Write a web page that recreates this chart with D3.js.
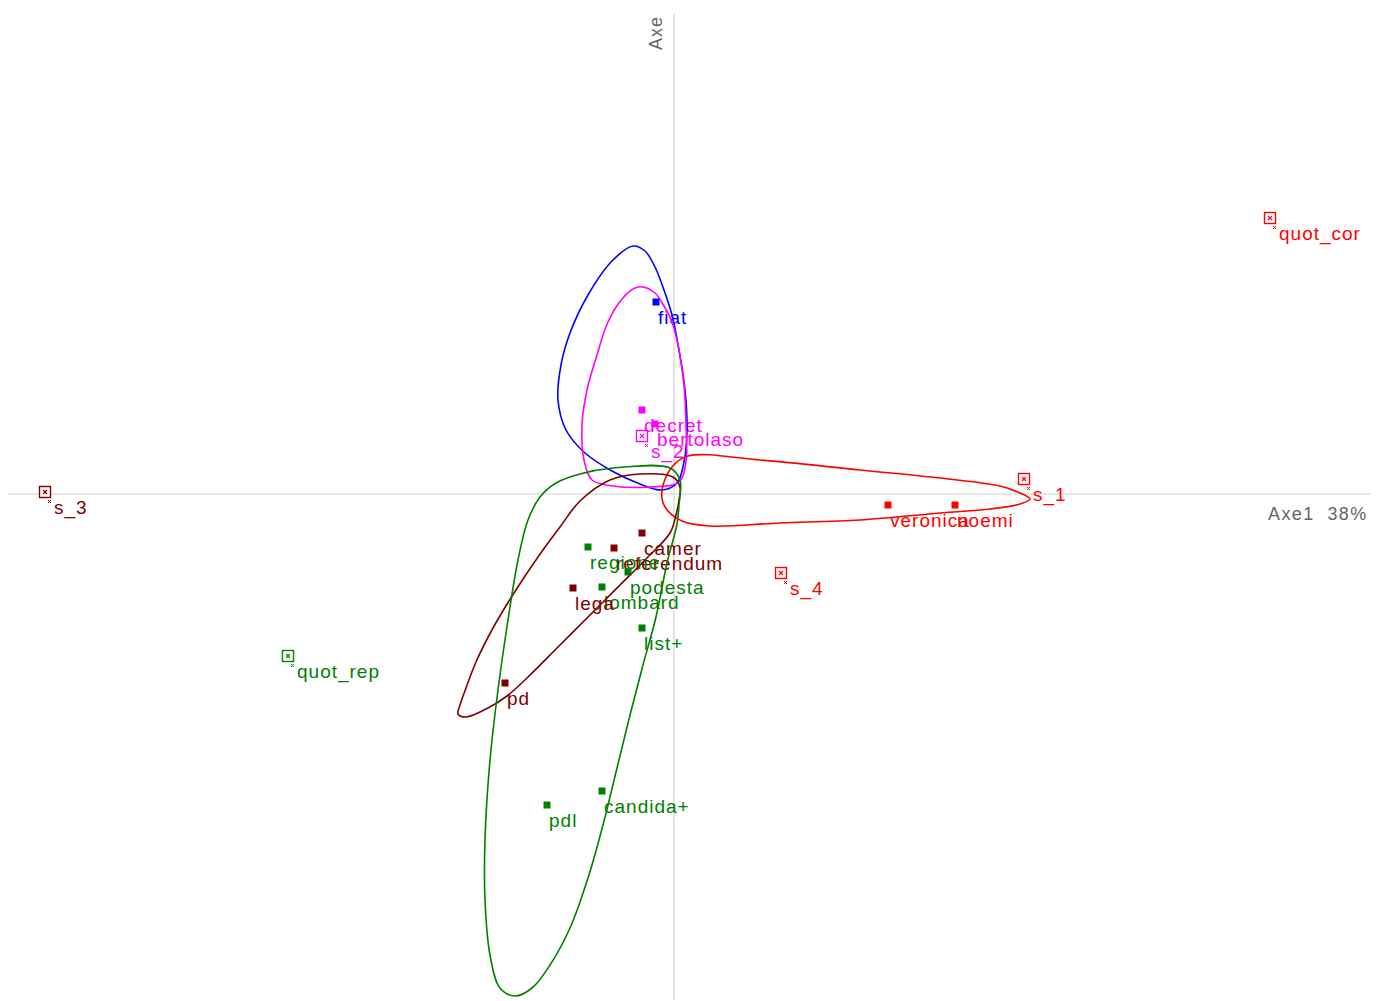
<!DOCTYPE html>
<html>
<head>
<meta charset="utf-8">
<script src="https://cdn.jsdelivr.net/npm/d3@7"></script>
<style>
  html, body { margin: 0; padding: 0; background: #fff; }
  svg { display: block; }
  text { font-family: "Liberation Sans", Arial, sans-serif; }
</style>
</head>
<body>
<div id="chart"></div>
<script>
// ---- Data (factor plane coordinates) ----
const groups = ["g_blue", "g_magenta", "g_red", "g_darkred", "g_green"];

// Active points
const actLabels = ["fiat", "decret", "bertolaso", "veronica", "noemi", "camer", "referendum", "regione", "podesta", "lombard", "lega", "list+", "pd", "pdl", "candida+"];
const actX = [-0.18, -0.32, -0.19, 2.14, 2.81, -0.32, -0.60, -0.86, -0.46, -0.72, -1.01, -0.32, -1.69, -1.27, -0.72];
const actY = [1.92, 0.84, 0.70, -0.11, -0.11, -0.39, -0.54, -0.53, -0.78, -0.93, -0.94, -1.34, -1.89, -3.11, -2.97];
const actGroup = ["g_blue", "g_magenta", "g_magenta", "g_red", "g_red", "g_darkred", "g_darkred", "g_green", "g_green", "g_green", "g_darkred", "g_green", "g_darkred", "g_green", "g_green"];

// Supplementary points
const supLabels = ["quot_cor", "s_1", "s_2", "s_3", "s_4", "quot_rep"];
const supX = [5.96, 3.50, -0.32, -6.29, 1.07, -3.86];
const supY = [2.76, 0.15, 0.58, 0.02, -0.79, -1.62];
const supGroup = ["g_red", "g_red", "g_magenta", "g_darkred", "g_red", "g_green"];

// Group envelopes (outline vertices)
const hullBlue = [[-0.41,2.48],[-0.29,2.43],[-0.19,2.27],[-0.10,2.04],[-0.02,1.79],[0.05,1.44],[0.11,1.04],[0.13,0.64],[0.10,0.32],[0.03,0.11],[-0.12,0.04],[-0.34,0.10],[-0.62,0.23],[-0.89,0.41],[-1.08,0.64],[-1.16,0.94],[-1.13,1.29],[-1.04,1.61],[-0.86,1.99],[-0.62,2.33]];
const hullMagenta = [[-0.31,2.07],[-0.19,2.01],[-0.10,1.88],[-0.02,1.72],[0.05,1.44],[0.10,1.09],[0.12,0.69],[0.12,0.32],[0.05,0.12],[-0.24,0.07],[-0.61,0.08],[-0.82,0.14],[-0.90,0.34],[-0.92,0.69],[-0.87,1.04],[-0.77,1.39],[-0.66,1.72],[-0.52,1.95],[-0.39,2.06]];
const hullRed = [[0.14,0.38],[0.86,0.34],[1.86,0.24],[2.66,0.16],[3.26,0.08],[3.46,0.01],[3.56,-0.05],[3.46,-0.10],[3.16,-0.15],[2.66,-0.19],[1.86,-0.26],[1.06,-0.29],[0.36,-0.32],[0.08,-0.27],[-0.09,-0.13],[-0.12,0.04],[-0.02,0.27]];
const hullDarkred = [[-0.34,0.20],[-0.01,0.17],[0.06,0.07],[0.05,-0.06],[0.02,-0.21],[-0.04,-0.39],[-0.29,-0.66],[-0.54,-0.91],[-0.81,-1.18],[-1.14,-1.51],[-1.47,-1.84],[-1.67,-2.02],[-1.86,-2.14],[-2.08,-2.23],[-2.16,-2.20],[-2.14,-2.11],[-2.08,-1.94],[-1.98,-1.68],[-1.81,-1.34],[-1.60,-0.99],[-1.36,-0.63],[-1.14,-0.33],[-0.94,-0.07],[-0.64,0.14]];
const hullGreen = [[-0.61,0.26],[-0.04,0.26],[0.06,0.14],[0.05,-0.11],[0.03,-0.30],[-0.07,-0.69],[-0.18,-1.23],[-0.31,-1.71],[-0.44,-2.21],[-0.57,-2.74],[-0.71,-3.31],[-0.86,-3.84],[-1.04,-4.34],[-1.24,-4.71],[-1.42,-4.94],[-1.59,-5.02],[-1.74,-4.94],[-1.84,-4.61],[-1.89,-4.06],[-1.89,-3.46],[-1.84,-2.66],[-1.76,-1.96],[-1.66,-1.26],[-1.56,-0.66],[-1.46,-0.26],[-1.34,-0.03],[-1.18,0.11],[-0.94,0.20]];

const axisLabels = ["Axe1  38%", "Axe"];

// ---- Styles ----
const colors = { g_blue: "#0000ff", g_magenta: "#ff00ff", g_red: "#ff0000", g_darkred: "#800000", g_green: "#008000" };
const hulls = [
  { g: "g_blue", pts: hullBlue },
  { g: "g_magenta", pts: hullMagenta },
  { g: "g_red", pts: hullRed },
  { g: "g_darkred", pts: hullDarkred },
  { g: "g_green", pts: hullGreen }
];

const W = 1384, H = 1001;
const x = d3.scaleLinear().domain([-6.66, 6.96]).range([8, 1370]);
const y = d3.scaleLinear().domain([4.8, -5.06]).range([14, 1000]);

const svg = d3.select("#chart").append("svg").attr("width", W).attr("height", H);
svg.append("rect").attr("width", W).attr("height", H).attr("fill", "#fff");

// Axes
svg.append("line").attr("x1", x(-6.66)).attr("x2", x(6.96)).attr("y1", y(0)).attr("y2", y(0))
  .attr("stroke", "#dddddd").attr("stroke-width", 1.5);
svg.append("line").attr("x1", x(0)).attr("x2", x(0)).attr("y1", y(4.8)).attr("y2", y(-5.06))
  .attr("stroke", "#dddddd").attr("stroke-width", 1.5);

svg.append("text").attr("x", x(5.94)).attr("y", y(0) + 26)
  .attr("font-size", 18).attr("fill", "#666").attr("letter-spacing", 1.4)
  .style("white-space", "pre").text(axisLabels[0]);
svg.append("text").attr("transform", `translate(${x(0) - 12},${y(4.8) + 36}) rotate(-90)`)
  .attr("font-size", 18).attr("fill", "#666").attr("letter-spacing", 1).text(axisLabels[1]);

// Labels of active points
const fontSize = 19;
actLabels.forEach((lab, i) => {
  svg.append("text").attr("x", x(actX[i]) + 2).attr("y", y(actY[i]) + 22)
    .attr("font-size", fontSize).attr("letter-spacing", 1).attr("fill", colors[actGroup[i]]).text(lab);
});
// Labels of supplementary points
supLabels.forEach((lab, i) => {
  svg.append("text").attr("x", x(supX[i]) + 9).attr("y", y(supY[i]) + 22)
    .attr("font-size", fontSize).attr("letter-spacing", 1).attr("fill", colors[supGroup[i]]).text(lab);
});

// Envelopes
const line = d3.line().x(d => x(d[0])).y(d => y(d[1])).curve(d3.curveCatmullRomClosed.alpha(0.5));
hulls.forEach(h => {
  svg.append("path").attr("d", line(h.pts)).attr("fill", "none")
    .attr("stroke", colors[h.g]).attr("stroke-width", 1.6);
});

// Active point markers
actLabels.forEach((lab, i) => {
  svg.append("rect").attr("x", x(actX[i]) - 3.5).attr("y", y(actY[i]) - 3.5)
    .attr("width", 7).attr("height", 7).attr("fill", colors[actGroup[i]]);
});

// Supplementary markers: box with a cross, plus small x
supLabels.forEach((lab, i) => {
  const cx = x(supX[i]), cy = y(supY[i]), c = colors[supGroup[i]];
  svg.append("rect").attr("x", cx - 5.5).attr("y", cy - 5.5).attr("width", 11).attr("height", 11)
    .attr("fill", "#fff").attr("stroke", c).attr("stroke-width", 1.4);
  svg.append("path").attr("d", `M${cx-2},${cy-2}L${cx+2},${cy+2}M${cx+2},${cy-2}L${cx-2},${cy+2}`)
    .attr("stroke", c).attr("stroke-width", 1.2);
  svg.append("path").attr("d", `M${cx+3},${cy+8}L${cx+6},${cy+11}M${cx+6},${cy+8}L${cx+3},${cy+11}`)
    .attr("stroke", c).attr("stroke-width", 1);
});
</script>
</body>
</html>
